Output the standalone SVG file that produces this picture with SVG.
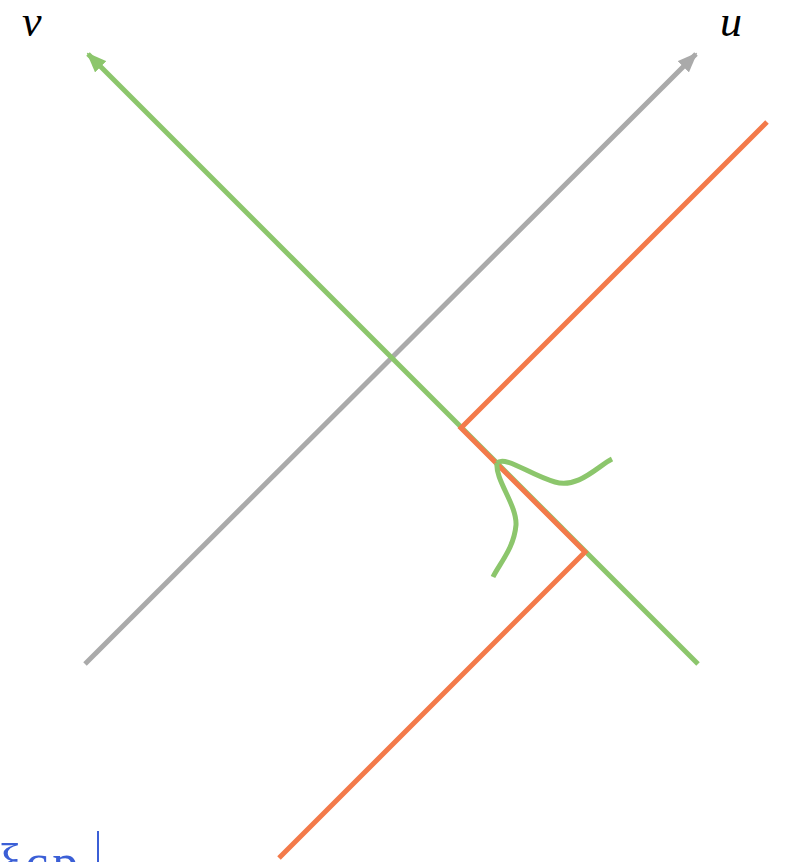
<svg xmlns="http://www.w3.org/2000/svg" width="785" height="862" viewBox="0 0 785 862">
<defs>
<style>
.ln{fill:none;stroke-width:5;stroke-linecap:butt}
.g{stroke:#8cc66c}
.gr{stroke:#aaaaaa}
.o{stroke:#f37a4a}
.lab{font-family:"Liberation Serif",serif;font-style:italic;font-size:44px;fill:#000}
</style>
<marker id="ahG" markerUnits="userSpaceOnUse" markerWidth="20" markerHeight="16" viewBox="0 0 20 16" refX="18" refY="8" orient="auto"><path d="M0,0 L20,8 L0,16 z" fill="#8cc66c"/></marker>
<marker id="ahGr" markerUnits="userSpaceOnUse" markerWidth="20" markerHeight="16" viewBox="0 0 20 16" refX="18" refY="8" orient="auto"><path d="M0,0 L20,8 L0,16 z" fill="#aaaaaa"/></marker>
</defs>
<rect width="785" height="862" fill="#fff"/>
<g id="connectors">
<line id="u-axis" class="ln gr" x1="85" y1="664" x2="696" y2="54" marker-end="url(#ahGr)"/>
<line id="v-axis" class="ln g" x1="698" y1="664" x2="88" y2="54" marker-end="url(#ahG)"/>
<polyline id="boundary" class="ln o" points="767,122 461,428 585,552 279,858"/>
<path id="wave1" class="ln g" d="M497,463 C505,455 530,475 555,482 C578,489 598,466 612,459"/>
<path id="wave2" class="ln g" d="M497,463 C495,480 517,505 516,525 C514,548 500,563 493,577"/>
</g>
<g id="label-v"><text class="lab" x="22" y="36">v</text></g>
<g id="label-u"><text class="lab" x="720" y="36">u</text></g>
<g id="cut-text">
<text x="-2" y="880" font-family="Liberation Serif,serif" font-size="52" letter-spacing="4" fill="#3b5fd6">ξcp</text>
<line x1="98" y1="831" x2="98" y2="862" stroke="#3b5fd6" stroke-width="2"/>
</g>
</svg>
